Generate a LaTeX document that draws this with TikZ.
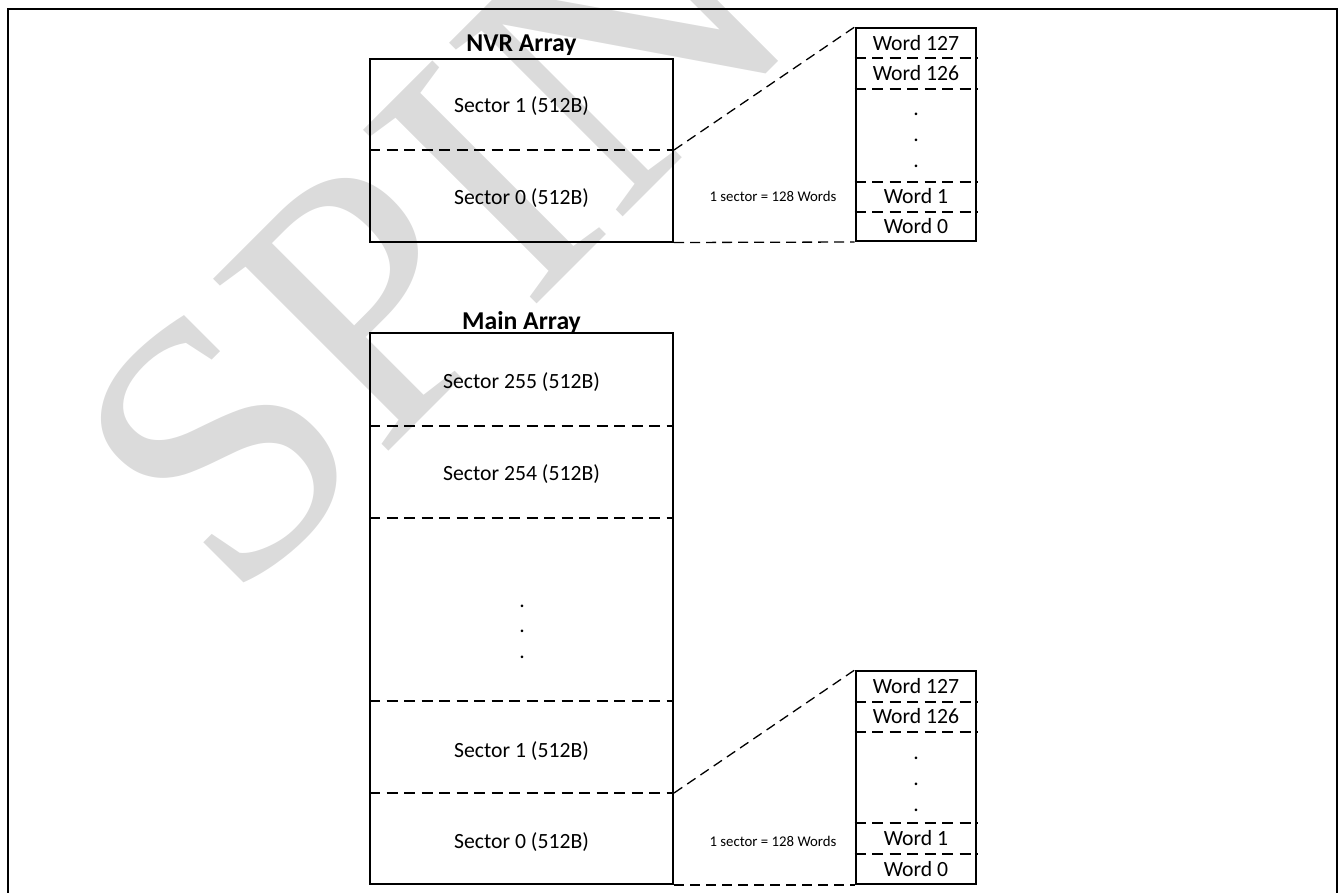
\documentclass[tikz,border=0pt]{standalone}
\usepackage{fontspec}
\setmainfont{Carlito}
\newfontfamily\wmfont{Liberation Serif}
\begin{document}
\begin{tikzpicture}[x=1pt,y=-1pt,
  frameline/.style={line width=2pt},
  arrbox/.style={draw, line width=2pt, inner sep=0pt, minimum width=303pt},
  wordbox/.style={draw, line width=2pt, inner sep=0pt, minimum width=120.7pt},
  divline/.style={line width=1.6pt, dash pattern=on 11pt off 6.5pt},
  zoomline/.style={line width=1.3pt, dash pattern=on 10pt off 6pt},
  lbl/.style={font=\fontsize{21.7}{25}\selectfont, inner sep=0pt, text height=14pt, text depth=0pt},
  ttl/.style={font=\fontsize{25.7}{29}\selectfont\bfseries, inner sep=0pt, text height=16.6pt, text depth=0pt},
  note/.style={font=\fontsize{14.8}{18}\selectfont, inner sep=0pt, text height=9.5pt, text depth=0pt},
  dotlbl/.style={font=\fontsize{21.7}{25}\selectfont, inner sep=0pt},
  wm/.style={font=\wmfont\fontsize{375}{375}\selectfont, text=black!14, inner sep=0pt}
]
\useasboundingbox (0,0) rectangle (1338,892);
% watermark
\node[wm, rotate=45, anchor=base west] (wmark) at (232,608) {SPIN};
% outer frame
\draw[frameline] (7.5,893) -- (7.5,9) -- (1337,9) -- (1337,893);

% NVR array
\node[ttl] (nvrT) at (521.5,43) {NVR Array};
\node[arrbox, minimum height=183pt] (nvr) at (521.5,150) {};
\draw[divline] (nvr.west |- 0,150) -- (nvr.east |- 0,150);
\coordinate (nvrD) at (nvr.east |- 0,150);
\node[lbl] (nvrS1) at (521.5,105) {Sector 1 (512B)};
\node[lbl] (nvrS0) at (521.5,197) {Sector 0 (512B)};

% NVR word box
\node[wordbox, minimum height=213pt] (wa) at (916,134.5) {};
\foreach \yy in {58,89,182,212}
  \draw[divline] (wa.west |- 0,\yy) -- (wa.east |- 0,\yy);
\node[lbl] (wa127) at (916,43.3) {Word 127};
\node[lbl] (wa126) at (916,73.8) {Word 126};
\node[dotlbl] (wad1) at (916,114) {.};
\node[dotlbl] (wad2) at (916,140) {.};
\node[dotlbl] (wad3) at (916,166) {.};
\node[lbl] (wa1) at (916,196.7) {Word 1};
\node[lbl] (wa0) at (916,226.4) {Word 0};
\node[note] (naA) at (773,197) {1 sector = 128 Words};
\draw[zoomline] (nvrD) -- (wa.north west);
\draw[zoomline] (nvr.south east) -- (wa.south west);

% Main array
\node[ttl] (mainT) at (521.5,321) {Main Array};
\node[arrbox, minimum height=551pt] (main) at (521.5,608.5) {};
\foreach \yy in {426,518,701,793}
  \draw[divline] (main.west |- 0,\yy) -- (main.east |- 0,\yy);
\coordinate (mainD) at (main.east |- 0,793);
\node[lbl] (m255) at (521.5,381.7) {Sector 255 (512B)};
\node[lbl] (m254) at (521.5,473) {Sector 254 (512B)};
\node[dotlbl] (md1) at (522,606) {.};
\node[dotlbl] (md2) at (522,631) {.};
\node[dotlbl] (md3) at (522,657) {.};
\node[lbl] (m1) at (521.5,750) {Sector 1 (512B)};
\node[lbl] (m0) at (521.5,841.7) {Sector 0 (512B)};

% Main word box
\node[wordbox, minimum height=213pt] (wb) at (916,777.5) {};
\foreach \yy in {702,732,823,854}
  \draw[divline] (wb.west |- 0,\yy) -- (wb.east |- 0,\yy);
\node[lbl] (wb127) at (916,686.2) {Word 127};
\node[lbl] (wb126) at (916,716.7) {Word 126};
\node[dotlbl] (wbd1) at (916,758) {.};
\node[dotlbl] (wbd2) at (916,784) {.};
\node[dotlbl] (wbd3) at (916,810) {.};
\node[lbl] (wb1) at (916,838.7) {Word 1};
\node[lbl] (wb0) at (916,869) {Word 0};
\node[note] (naB) at (773,841.7) {1 sector = 128 Words};
\draw[zoomline] (mainD) -- (wb.north west);
\draw[zoomline] (main.south east) -- (wb.south west);
\end{tikzpicture}
\end{document}
